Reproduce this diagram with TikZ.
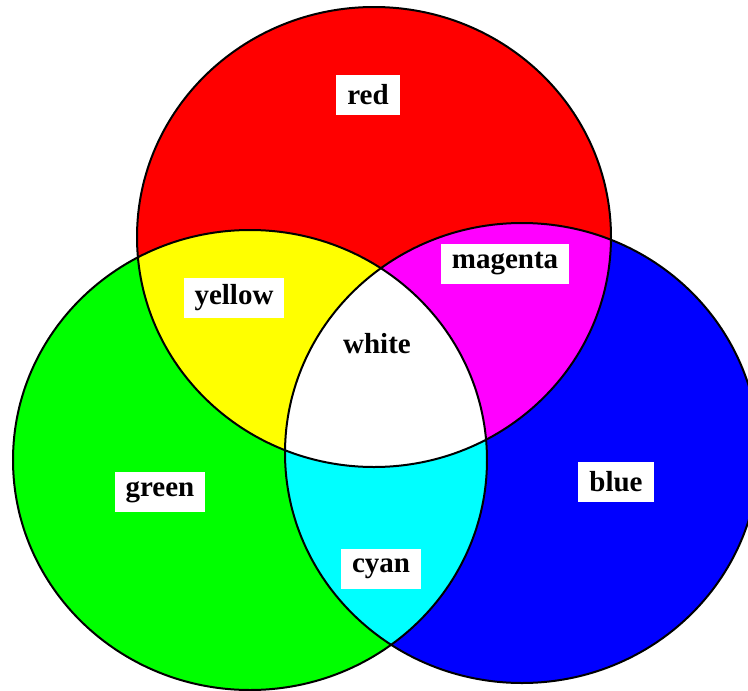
\documentclass[tikz,border=0pt]{standalone}
\usepackage{fontspec}
\setmainfont{Liberation Serif}
\definecolor{pureyellow}{RGB}{255,255,0}
\definecolor{puremagenta}{RGB}{255,0,255}
\definecolor{purecyan}{RGB}{0,255,255}
\definecolor{purered}{RGB}{255,0,0}
\definecolor{puregreen}{RGB}{0,255,0}
\definecolor{pureblue}{RGB}{0,0,255}

\begin{document}
\begin{tikzpicture}[x=1pt, y=-1pt,
    tag/.style={fill=white, inner xsep=11pt, inner ysep=0pt, minimum height=40pt,
                font=\fontsize{29}{31}\selectfont\bfseries},
    rim/.style={draw=black, line width=2pt},
]
\def\redset{(374,237) ellipse [x radius=237pt, y radius=230pt]}
\def\greenset{(250,460) ellipse [x radius=237pt, y radius=230pt]}
\def\blueset{(522,453) ellipse [x radius=237pt, y radius=230pt]}

\clip (0,0) rectangle (748,691);
\fill[purered]   \redset;
\fill[puregreen] \greenset;
\fill[pureblue]  \blueset;
\begin{scope}
  \clip \redset;
  \fill[pureyellow]  \greenset;
  \fill[puremagenta] \blueset;
\end{scope}
\begin{scope}
  \clip \greenset;
  \fill[purecyan] \blueset;
  \clip \redset;
  \fill[white] \blueset;
\end{scope}
\draw[rim] \redset;
\draw[rim] \greenset;
\draw[rim] \blueset;

\node[tag] (r) at (368,95)  {red};
\node[tag] (y) at (234,298) {yellow};
\node[tag] (m) at (505,264) {magenta};
\node[tag] (w) at (377,344) {white};
\node[tag] (g) at (160,492) {green};
\node[tag] (b) at (616,482) {blue};
\node[tag] (c) at (381,569) {cyan};
\end{tikzpicture}
\end{document}
